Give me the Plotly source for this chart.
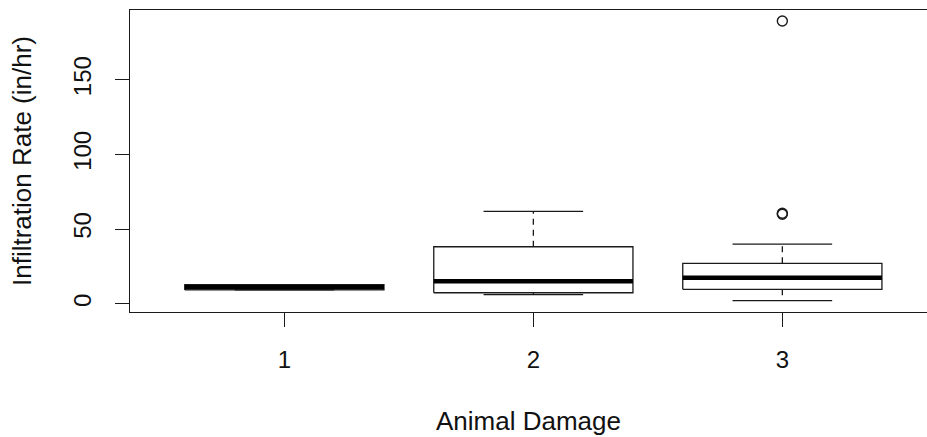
import plotly.graph_objects as go

# ---- data ----
groups = [1, 2, 3]
group_labels = ["1", "2", "3"]
lower_whisker = [9.3, 6.2, 2.1]
q1 = [9.3, 7.4, 9.7]
median = [11.0, 15.1, 17.5]
q3 = [12.8, 38.2, 27.1]
upper_whisker = [12.8, 61.9, 40.0]
outlier_group = [3, 3, 3]
outlier_values = [189.3, 60.0, 60.6]
y_ticks = [0, 50, 100, 150]

# ---- style constants ----
BOX_W = 0.8
CAP_W = 0.4
LINE = "#1a1a1a"
FONT = "Liberation Sans, Arial, sans-serif"

box_x, box_y = [], []
med_x, med_y = [], []
wh_x, wh_y = [], []
cap_x, cap_y = [], []
for g, lw, a, m, b, uw in zip(groups, lower_whisker, q1, median, q3, upper_whisker):
    h = BOX_W / 2
    box_x += [g - h, g + h, g + h, g - h, g - h, None]
    box_y += [a, a, b, b, a, None]
    med_x += [g - h, g + h, None]
    med_y += [m, m, None]
    if uw > b:
        wh_x += [g, g, None]
        wh_y += [b, uw, None]
    if lw < a:
        wh_x += [g, g, None]
        wh_y += [a, lw, None]
    c = CAP_W / 2
    cap_x += [g - c, g + c, None, g - c, g + c, None]
    cap_y += [uw, uw, None, lw, lw, None]

fig = go.Figure()
fig.add_trace(go.Scatter(x=wh_x, y=wh_y, mode="lines",
                         line=dict(color=LINE, width=1.3, dash="6px,5px"),
                         hoverinfo="skip", showlegend=False))
fig.add_trace(go.Scatter(x=cap_x, y=cap_y, mode="lines",
                         line=dict(color=LINE, width=1.3),
                         hoverinfo="skip", showlegend=False))
fig.add_trace(go.Scatter(x=box_x, y=box_y, mode="lines",
                         line=dict(color=LINE, width=1.3),
                         hoverinfo="skip", showlegend=False))
fig.add_trace(go.Scatter(x=med_x, y=med_y, mode="lines",
                         line=dict(color="#000000", width=4.5),
                         hoverinfo="skip", showlegend=False))
fig.add_trace(go.Scatter(x=outlier_group, y=outlier_values, mode="markers",
                         marker=dict(symbol="circle-open", size=10,
                                     color=LINE, line=dict(width=1.4)),
                         showlegend=False))

fig.update_layout(
    width=927, height=437,
    margin=dict(l=130, r=0, t=10, b=125),
    paper_bgcolor="white", plot_bgcolor="white",
    font=dict(family=FONT, size=24, color="#111111"),
    xaxis=dict(
        range=[0.38, 3.581], tickmode="array", tickvals=groups, ticktext=group_labels,
        ticks="outside", ticklen=14, tickwidth=1.3, tickcolor=LINE,
        showline=True, mirror=True, linecolor=LINE, linewidth=1.3,
        showgrid=False, zeroline=False, ticklabelstandoff=12,
        title=dict(text="Animal Damage", font=dict(size=26), standoff=39),
        automargin=False,
    ),
    yaxis=dict(
        range=[-5.49, 196.69], tickmode="array", tickvals=y_ticks,
        ticktext=[str(v) for v in y_ticks], tickangle=-90,
        ticks="outside", ticklen=14, tickwidth=1.3, tickcolor=LINE,
        showline=True, mirror=False, linecolor=LINE, linewidth=1.3,
        showgrid=False, zeroline=False, ticklabelstandoff=14,
        title=dict(text="Infiltration Rate (in/hr)", font=dict(size=26), standoff=30),
        automargin=False,
    ),
)

fig.write_html("out.html", config={"displayModeBar": False},
               post_script=("document.body.style.margin='0';"
                            "document.body.style.overflow='hidden';"
                            "document.documentElement.style.overflow='hidden';"))
